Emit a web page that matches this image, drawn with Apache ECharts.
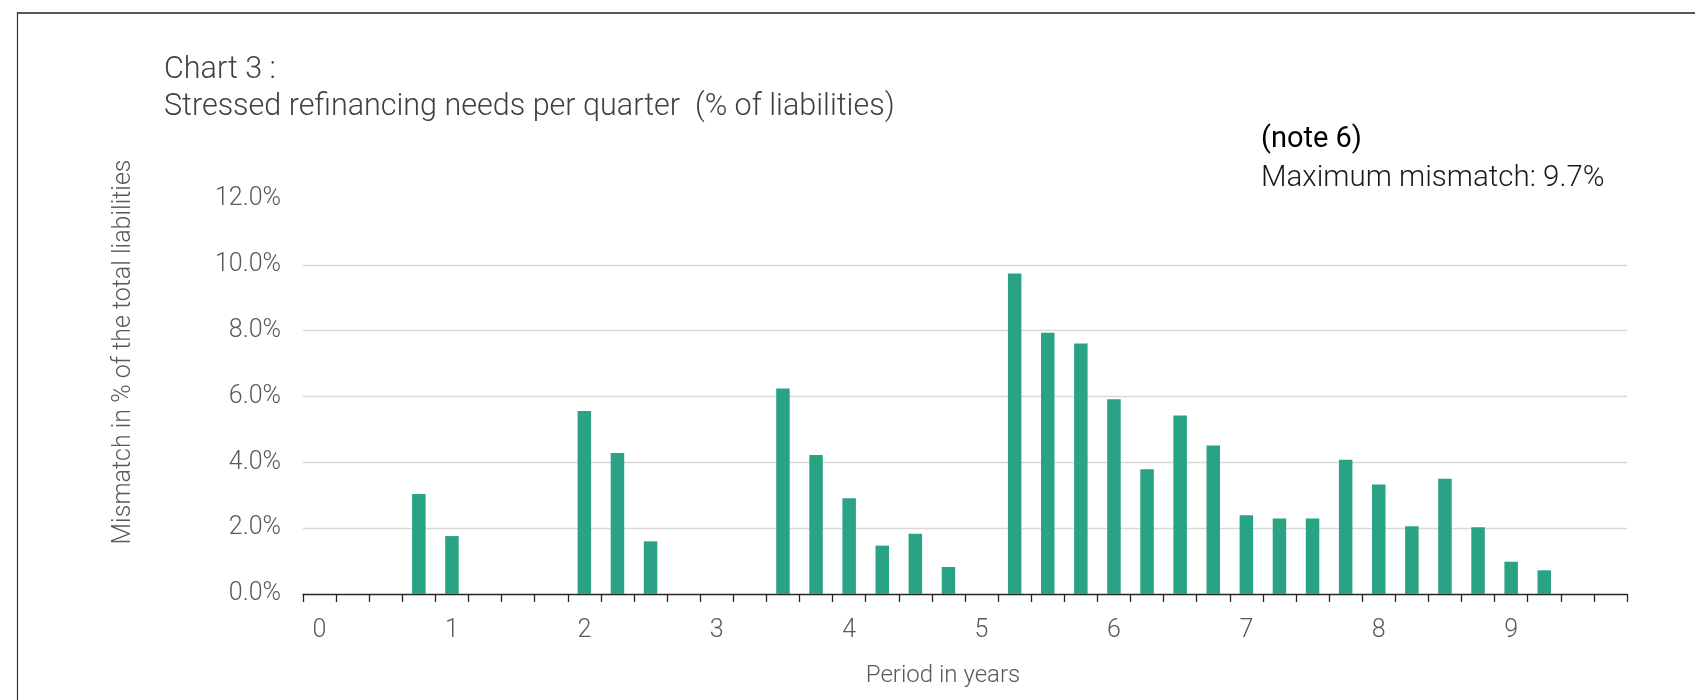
<!DOCTYPE html>
<html>
<head>
<meta charset="utf-8">
<script src="https://cdn.jsdelivr.net/npm/echarts@6/dist/echarts.min.js"></script>
<style>
html,body{margin:0;padding:0;background:#fff;}
#chart{width:1695px;height:700px;}
</style>
</head>
<body>
<div id="chart"></div>
<script>
// Quarters from 0 to 9.75 years
const quarters = [
  '0','0.25','0.5','0.75','1','1.25','1.5','1.75','2','2.25',
  '2.5','2.75','3','3.25','3.5','3.75','4','4.25','4.5','4.75',
  '5','5.25','5.5','5.75','6','6.25','6.5','6.75','7','7.25',
  '7.5','7.75','8','8.25','8.5','8.75','9','9.25','9.5','9.75'
];
// Mismatch in % of total liabilities
const mismatch = [
  0, 0, 0, 3.04, 1.76, 0, 0, 0, 5.56, 4.28,
  1.60, 0, 0, 0, 6.24, 4.22, 2.91, 1.47, 1.83, 0.82,
  0, 9.74, 7.94, 7.61, 5.92, 3.79, 5.42, 4.51, 2.39, 2.29,
  2.29, 4.08, 3.33, 2.06, 3.50, 2.03, 0.98, 0.72, 0, 0
];
const yTicks = [0, 2, 4, 6, 8, 10, 12];
const titleLines = ['Chart 3 :', 'Stressed refinancing needs per quarter  (% of liabilities)'];
const noteLines = ['(note 6)', 'Maximum mismatch: 9.7%'];
const yName = 'Mismatch in % of the total liabilities';
const xName = 'Period in years';

const FONT = 'Roboto, "Open Sans", sans-serif';
const chart = echarts.init(document.getElementById('chart'), null, {renderer: 'canvas'});
chart.setOption({
  backgroundColor: '#ffffff',
  animation: false,
  graphic: [
    {type: 'line', shape: {x1: 17, y1: 13, x2: 1695, y2: 13}, style: {stroke: '#595959', lineWidth: 2}},
    {type: 'line', shape: {x1: 17.5, y1: 12, x2: 17.5, y2: 700}, style: {stroke: '#333333', lineWidth: 1.2}},
    {type: 'text', x: 164, y: 70.5, style: {text: titleLines[0], font: '300 30.5px ' + FONT, fill: '#404040', verticalAlign: 'middle'}},
    {type: 'text', x: 164, y: 107, style: {text: titleLines[1], font: '300 30.5px ' + FONT, fill: '#404040', verticalAlign: 'middle'}},
    {type: 'text', x: 1261, y: 139.5, style: {text: noteLines[0], font: '400 29px ' + FONT, fill: '#000000', verticalAlign: 'middle'}},
    {type: 'text', x: 1261, y: 179, style: {text: noteLines[1], font: '300 29.5px ' + FONT, fill: '#1a1a1a', verticalAlign: 'middle'}},
    {type: 'text', x: 124, y: 352, rotation: Math.PI / 2,
      style: {text: yName, font: '300 25px ' + FONT, fill: '#595959', align: 'center', verticalAlign: 'middle'}},
    {type: 'text', x: 943, y: 676,
      style: {text: xName, font: '300 24px ' + FONT, fill: '#595959', align: 'center', verticalAlign: 'middle'}}
  ],
  grid: {left: 303, right: 68, top: 199, bottom: 106, containLabel: false},
  xAxis: {
    type: 'category',
    data: quarters,
    boundaryGap: true,
    axisLine: {show: true, lineStyle: {color: '#262626', width: 1.3}},
    axisTick: {show: true, interval: 0, length: 8, lineStyle: {color: '#262626', width: 1.3}},
    axisLabel: {
      interval: 3,
      margin: 24,
      fontFamily: FONT, fontWeight: 300, fontSize: 25, color: '#595959',
      formatter: v => String(Math.round(parseFloat(v)))
    },
    splitLine: {show: false}
  },
  yAxis: {
    type: 'value',
    min: yTicks[0],
    max: yTicks[yTicks.length - 1],
    interval: 2,
    axisLine: {show: false},
    axisTick: {show: false},
    axisLabel: {
      margin: 22,
      fontFamily: FONT, fontWeight: 300, fontSize: 25, color: '#595959',
      formatter: v => v.toFixed(1) + '%'
    },
    splitLine: {show: true, showMaxLine: false, showMinLine: false, lineStyle: {color: '#d9d9d9', width: 1.3}}
  },
  series: [{
    type: 'bar',
    data: mismatch,
    barWidth: 13.5,
    itemStyle: {color: '#29a383'}
  }]
});
</script>
</body>
</html>
